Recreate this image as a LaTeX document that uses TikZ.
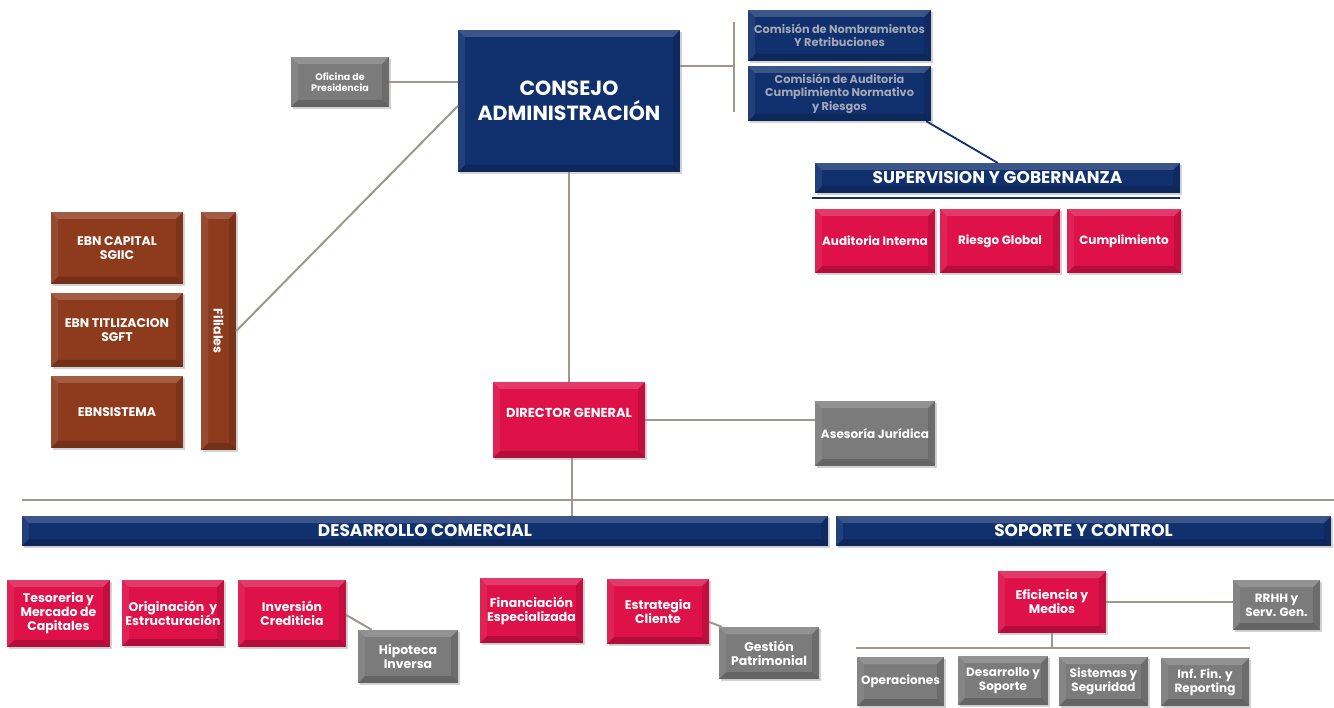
\documentclass[tikz,border=0pt]{standalone}
\usepackage{fontspec}
\setmainfont{Poppins}
\usetikzlibrary{shadows}
\definecolor{navy}{HTML}{10306E}
\definecolor{crim}{HTML}{DE1148}
\definecolor{gry}{HTML}{7B7B7B}
\definecolor{brn}{HTML}{8E3B1D}
\definecolor{lin}{HTML}{9E978E}
\definecolor{comtxt}{HTML}{A4A8B6}
\tikzset{
  bev/.style={fill=#1, inner sep=1pt, align=center, text=white, font=\bfseries,
    drop shadow={opacity=0.35, shadow xshift=1.5pt, shadow yshift=-2pt},
    path picture={
      \fill[white,opacity=0.18] (path picture bounding box.north west) -- (path picture bounding box.north east)
        -- ([xshift=-7pt,yshift=-7pt]path picture bounding box.north east) -- ([xshift=7pt,yshift=-7pt]path picture bounding box.north west) -- cycle;
      \fill[white,opacity=0.08] (path picture bounding box.north west) -- ([xshift=7pt,yshift=-7pt]path picture bounding box.north west)
        -- ([xshift=7pt,yshift=7pt]path picture bounding box.south west) -- (path picture bounding box.south west) -- cycle;
      \fill[black,opacity=0.18] (path picture bounding box.south west) -- (path picture bounding box.south east)
        -- ([xshift=-7pt,yshift=7pt]path picture bounding box.south east) -- ([xshift=7pt,yshift=7pt]path picture bounding box.south west) -- cycle;
      \fill[black,opacity=0.12] (path picture bounding box.north east) -- ([xshift=-7pt,yshift=-7pt]path picture bounding box.north east)
        -- ([xshift=-7pt,yshift=7pt]path picture bounding box.south east) -- (path picture bounding box.south east) -- cycle;
    }},
  nv/.style={bev=navy},
  rd/.style={bev=crim},
  gr/.style={bev=gry},
  br/.style={bev=brn},
  fA/.style={font=\bfseries\fontsize{12.5}{14}\selectfont},
  fB/.style={font=\bfseries\fontsize{12}{14}\selectfont},
  conn/.style={draw=lin, line width=2pt},
  nconn/.style={draw=navy, line width=1.8pt},
}
\newcommand{\obox}[7]{%
  \node[#6, minimum width={(#4-#2)*1pt}, minimum height={(#5-#3)*1pt}] (#1) at ({(#2+#4)/2},{(#3+#5)/2}) {#7};}
\begin{document}
\begin{tikzpicture}[x=1pt,y=-1pt]
\useasboundingbox (0,0) rectangle (1334,708);
% free connector ends
\coordinate (brT) at (734,22);
\coordinate (brB) at (734,112);
\coordinate (brM) at (734,66);
\coordinate (hl1) at (22,500);
\coordinate (hl2) at (1334,500);
\coordinate (sl1) at (856,648);
\coordinate (sl2) at (1250,648);
\draw[conn] (brT) -- (brB);
\draw[conn] (hl1) -- (hl2);
\draw[conn] (sl1) -- (sl2);

% top
\obox{cons}{458}{30}{680}{172}{nv,font=\bfseries\fontsize{20.5}{25}\selectfont}{CONSEJO\\ADMINISTRACIÓN}
\obox{ofi}{291}{57}{389}{107}{gr,font=\bfseries\fontsize{9.5}{11}\selectfont}{Oficina de\\Presidencia}
\obox{cnom}{748}{10}{931}{61}{nv,text=comtxt,font=\bfseries\fontsize{11.3}{13.5}\selectfont}{Comisión de Nombramientos\\Y Retribuciones}
\obox{caud}{748}{66}{931}{121}{nv,text=comtxt,font=\bfseries\fontsize{11.3}{13.5}\selectfont}{Comisión de Auditoria\\Cumplimiento Normativo\\y Riesgos}
\obox{sup}{815}{163}{1180}{193}{nv,font=\bfseries\fontsize{17}{20}\selectfont}{SUPERVISION Y GOBERNANZA}
\coordinate (supl1) at (812,198);
\coordinate (supl2) at (1180,198);
\draw[draw=navy,line width=2pt] (supl1) -- (supl2);
\obox{aud}{815}{209}{935}{273}{rd,fB}{Auditoria Interna}
\obox{rg}{940}{209}{1060}{273}{rd,fB}{Riesgo Global}
\obox{cum}{1067}{209}{1181}{273}{rd,fB}{Cumplimiento}

% filiales
\obox{f1}{51}{212}{183}{284}{br,fA}{EBN CAPITAL\\SGIIC}
\obox{f2}{51}{293}{183}{367}{br,fA}{EBN TITLIZACION\\SGFT}
\obox{f3}{51}{376}{183}{448}{br,fA}{EBNSISTEMA}
\obox{fil}{201}{212}{236}{450}{br}{}
\node[text=white,fA,rotate=-90] (filt) at (fil.center) {Filiales};

% director
\obox{dg}{493}{382}{645}{458}{rd,font=\bfseries\fontsize{13}{15}\selectfont,text depth=14pt}{DIRECTOR GENERAL}
\obox{ase}{815}{401}{935}{466}{gr,fB}{Asesoría Jurídica}

% bands
\obox{dc}{22}{516}{828}{546}{nv,font=\bfseries\fontsize{17}{20}\selectfont}{DESARROLLO COMERCIAL}
\obox{sc}{836}{516}{1331}{546}{nv,font=\bfseries\fontsize{17}{20}\selectfont}{SOPORTE Y CONTROL}

% bottom row
\obox{tes}{7}{580}{110}{647}{rd,fA}{Tesoreria y\\Mercado de\\Capitales}
\obox{ori}{122}{580}{224}{646}{rd,fA}{Originación~ y\\Estructuración}
\obox{inv}{238}{580}{346}{647}{rd,fA}{Inversión\\Crediticia}
\obox{hip}{358}{630}{458}{683}{gr,fA}{Hipoteca\\Inversa}
\obox{fin}{480}{578}{583}{643}{rd,fA}{Financiación\\Especializada}
\obox{est}{607}{579}{709}{644}{rd,fA}{Estrategia\\Cliente}
\obox{ges}{719}{627}{819}{679}{gr,fA}{Gestión\\Patrimonial}
\obox{efi}{998}{571}{1106}{633}{rd,fA}{Eficiencia y\\Medios}
\obox{rrhh}{1233}{580}{1320}{630}{gr,fB}{RRHH y\\Serv. Gen.}
\obox{ope}{857}{657}{944}{706}{gr,fB}{Operaciones}
\obox{des}{958}{656}{1048}{705}{gr,fB}{Desarrollo y\\Soporte}
\obox{sis}{1059}{657}{1148}{706}{gr,fB}{Sistemas y\\Seguridad}
\obox{inf}{1161}{658}{1249}{706}{gr,fB}{Inf. Fin. y\\Reporting}

% connectors between nodes
\draw[conn] (ofi.east) -- (ofi.east -| cons.west);
\draw[conn] (cons.east |- brM) -- (brM);
\draw[conn] (fil.east) -- (cons.west |- 0,106);
\draw[nconn] ([xshift=-5pt]caud.south east) -- (sup.north);
\draw[conn] (cons.south -| 569,0) -- (dg.north -| 569,0);
\draw[conn] (dg.east |- 0,420) -- (ase.west |- 0,420);
\draw[conn] (dg.south -| 572,0) -- (572,516);
\draw[conn] (inv.east |- 0,615) -- ([xshift=14pt]hip.north west);
\draw[conn] (est.east |- 0,622) -- ([xshift=3pt]ges.north west);
\draw[conn] (efi.east |- 0,602) -- (rrhh.west |- 0,602);
\draw[conn] (efi.south) -- (efi.south |- sl1);
\end{tikzpicture}
\end{document}
